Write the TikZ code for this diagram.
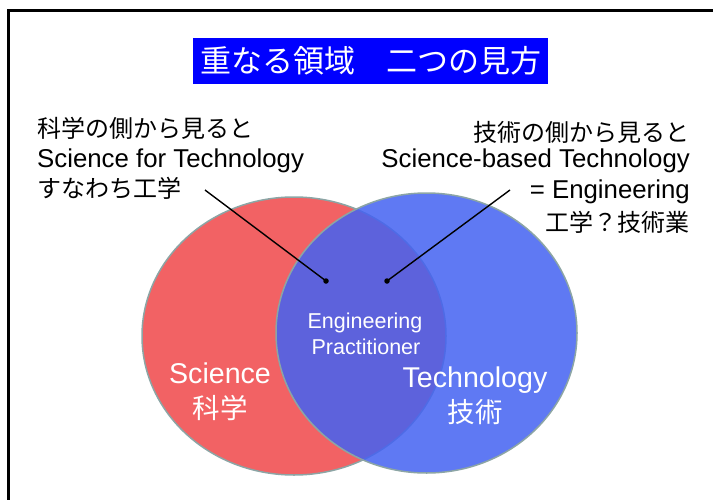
\documentclass[tikz,border=0pt]{standalone}
\usepackage{fontspec}
\setmainfont{Liberation Sans}
\newfontfamily\jp{Noto Sans CJK JP}
\definecolor{redfill}{RGB}{242,98,100}
\definecolor{bluefill}{RGB}{68,98,242}
\definecolor{rimcol}{RGB}{140,165,165}
\definecolor{titleblue}{RGB}{0,0,255}
\begin{document}
\begin{tikzpicture}[x=1pt,y=-1pt,
  latin/.style={inner sep=0pt, font=\fontsize{25.8}{25.8}\selectfont},
  jtext/.style={inner sep=0pt, font=\jp\fontsize{24}{24}\selectfont},
  biglat/.style={inner sep=0pt, text=white, font=\fontsize{28.6}{28.6}\selectfont},
  bigjp/.style={inner sep=0pt, text=white, font=\jp\fontsize{27.5}{27.5}\selectfont},
  midlat/.style={inner sep=0pt, text=white, font=\fontsize{21.5}{21.5}\selectfont},
  rim/.style={draw=rimcol, line width=1.5pt},
  dotmark/.style={circle, fill=black, inner sep=0pt, minimum size=5.5pt},
  leader/.style={line width=1.4pt, black}]
\useasboundingbox (0,0) rectangle (714,500);
\fill[white] (0,0) rectangle (714,500);
% frame
\draw[line width=3pt] (8,500) -- (8,11) -- (713,11);
% title
\node[fill=titleblue, text=white, minimum width=355pt, minimum height=46pt, inner sep=0pt,
      font=\jp\fontsize{31}{31}\selectfont] (title) at (370.5,61) {重なる領域　二つの見方};
% circles
\path[fill=redfill, rim] (294,336) ellipse [x radius=152, y radius=139];
\path[fill=bluefill, fill opacity=0.85, rim] (426.5,333) ellipse [x radius=150.5, y radius=140];
% left text
\node[jtext, anchor=base west] (l1) at (37,137) {科学の側から見ると};
\node[latin, anchor=base west] (l2) at (37,167) {Science for Technology};
\node[jtext, anchor=base west] (l3) at (37,197) {すなわち工学};
% right text
\node[jtext, anchor=base east] (r1) at (690,141) {技術の側から見ると};
\node[latin, anchor=base east] (r2) at (690,167.5) {Science-based Technology};
\node[latin, anchor=base east] (r3) at (690,198) {= Engineering};
\node[jtext, anchor=base east] (r4) at (690,231) {工学？技術業};
% connectors
\coordinate (lA) at (205,190);
\coordinate (rA) at (510,190);
\node[dotmark] (d1) at (326,281) {};
\node[dotmark] (d2) at (387,281) {};
\draw[leader] (lA) -- (d1.center);
\draw[leader] (rA) -- (d2.center);
% labels in circles
\node[midlat, anchor=base] (eng) at (365,328) {Engineering};
\node[midlat, anchor=base] (pra) at (366,354) {Practitioner};
\node[biglat, anchor=base] (sci) at (220,383) {Science};
\node[bigjp, anchor=base] (sciJ) at (220,418) {科学};
\node[biglat, anchor=base] (tec) at (475,387) {Technology};
\node[bigjp, anchor=base] (tecJ) at (475,422) {技術};
\end{tikzpicture}
\end{document}
